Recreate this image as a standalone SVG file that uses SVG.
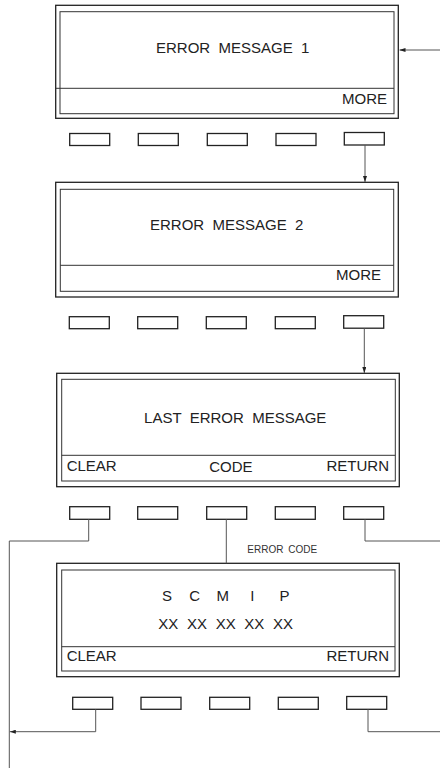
<svg xmlns="http://www.w3.org/2000/svg" width="440" height="768" viewBox="0 0 440 768">
<style>
.o{fill:none;stroke:#222;stroke-width:1.3}
.i{fill:none;stroke:#333;stroke-width:1}
.d{stroke:#333;stroke-width:1}
.b{fill:#fff;stroke:#222;stroke-width:1.3}
.t{font-family:"Liberation Sans",Arial,sans-serif;font-size:15px;fill:#222}
.m{text-anchor:middle}
.e{text-anchor:end}
.s{font-family:"Liberation Sans",Arial,sans-serif;font-size:10px;fill:#333;word-spacing:2px}
.c{fill:none;stroke:#555;stroke-width:1}
</style>
<defs>
<marker id="ah" viewBox="0 0 6 4" refX="6" refY="2" markerWidth="6" markerHeight="4" markerUnits="userSpaceOnUse" orient="auto">
<path d="M0,0 L6,2 L0,4 Z" fill="#222"/>
</marker>
</defs>

<g id="panel1">
<rect class="o" x="55.7" y="5.3" width="342.6" height="113"/>
<rect class="i" x="60" y="11.7" width="334" height="102"/>
<line class="d" x1="56" y1="88.3" x2="394" y2="88.3"/>
<text class="t m" x="232.7" y="53" xml:space="preserve">ERROR  MESSAGE  1</text>
<text class="t e" x="387" y="104">MORE</text>
</g>

<g id="buttons1">
<rect class="b" x="69.7" y="133.5" width="40" height="12"/>
<rect class="b" x="138.3" y="133.5" width="40" height="12"/>
<rect class="b" x="207.3" y="133.5" width="40" height="12"/>
<rect class="b" x="276" y="133.5" width="40" height="12"/>
<rect class="b" x="344.3" y="132.5" width="40" height="12.5"/>
</g>

<g id="panel2">
<rect class="o" x="55.7" y="182.3" width="342.6" height="114.7"/>
<rect class="i" x="60.3" y="189.3" width="333.4" height="102"/>
<line class="d" x1="60.3" y1="265.3" x2="393.7" y2="265.3"/>
<text class="t m" x="226.7" y="230" xml:space="preserve">ERROR  MESSAGE  2</text>
<text class="t e" x="381" y="280">MORE</text>
</g>

<g id="buttons2">
<rect class="b" x="69.3" y="316.7" width="40" height="12"/>
<rect class="b" x="137.7" y="316.7" width="40" height="12"/>
<rect class="b" x="206.3" y="316.7" width="40" height="12"/>
<rect class="b" x="275.3" y="316.7" width="40" height="12"/>
<rect class="b" x="343.7" y="315.7" width="40" height="12.5"/>
</g>

<g id="panel3">
<rect class="o" x="56.7" y="373.3" width="342.6" height="113.4"/>
<rect class="i" x="61.7" y="379.3" width="333.6" height="101.7"/>
<line class="d" x1="61.7" y1="455.3" x2="395.3" y2="455.3"/>
<text class="t m" x="235.2" y="423.3" xml:space="preserve">LAST  ERROR  MESSAGE</text>
<text class="t" x="66.7" y="471">CLEAR</text>
<text class="t m" x="230.8" y="472.3">CODE</text>
<text class="t e" x="389" y="471">RETURN</text>
</g>

<g id="buttons3">
<rect class="b" x="69.7" y="506.7" width="40" height="12.6"/>
<rect class="b" x="137.7" y="506.7" width="40" height="12.6"/>
<rect class="b" x="206.7" y="506.7" width="40" height="12.6"/>
<rect class="b" x="275.3" y="506.7" width="40" height="12.6"/>
<rect class="b" x="343.7" y="506.7" width="40" height="12.6"/>
</g>

<g id="panel4">
<rect class="o" x="56.7" y="563.3" width="342.6" height="113.4"/>
<rect class="i" x="61.7" y="570" width="333.3" height="101"/>
<line class="d" x1="61.7" y1="646.7" x2="395" y2="646.7"/>
<text class="t"><tspan x="162" y="601">S</tspan><tspan x="189.3" y="601">C</tspan><tspan x="216.6" y="601">M</tspan><tspan x="250.3" y="601">I</tspan><tspan x="279.5" y="601">P</tspan></text>
<text class="t" x="158.3" y="629.3" style="word-spacing:4.5px">XX XX XX XX XX</text>
<text class="t" x="66.7" y="660.7">CLEAR</text>
<text class="t e" x="389" y="660.7">RETURN</text>
</g>

<g id="buttons4">
<rect class="b" x="72.7" y="697.3" width="40" height="12"/>
<rect class="b" x="141" y="697.3" width="40" height="12"/>
<rect class="b" x="209.7" y="697.3" width="40" height="12"/>
<rect class="b" x="278.3" y="697.3" width="40" height="12"/>
<rect class="b" x="346.7" y="696.5" width="40" height="12.8"/>
</g>

<g id="connectors">
<line class="c" x1="440" y1="50" x2="399.5" y2="50" marker-end="url(#ah)"/>
<line class="c" x1="365" y1="145" x2="365" y2="182" marker-end="url(#ah)"/>
<line class="c" x1="364.3" y1="328.3" x2="364.3" y2="373" marker-end="url(#ah)"/>
<polyline class="c" points="88.7,519.3 88.7,541 9.3,541 9.3,768"/>
<line class="c" x1="226.3" y1="519.3" x2="226.3" y2="563.3"/>
<polyline class="c" points="365,519.3 365,541 440,541"/>
<polyline class="c" points="95.7,709.3 95.7,731.7 9.8,731.7" marker-end="url(#ah)"/>
<polyline class="c" points="368,709.3 368,731.7 440,731.7"/>
<text class="s" x="247.3" y="553.3">ERROR CODE</text>
</g>
</svg>
